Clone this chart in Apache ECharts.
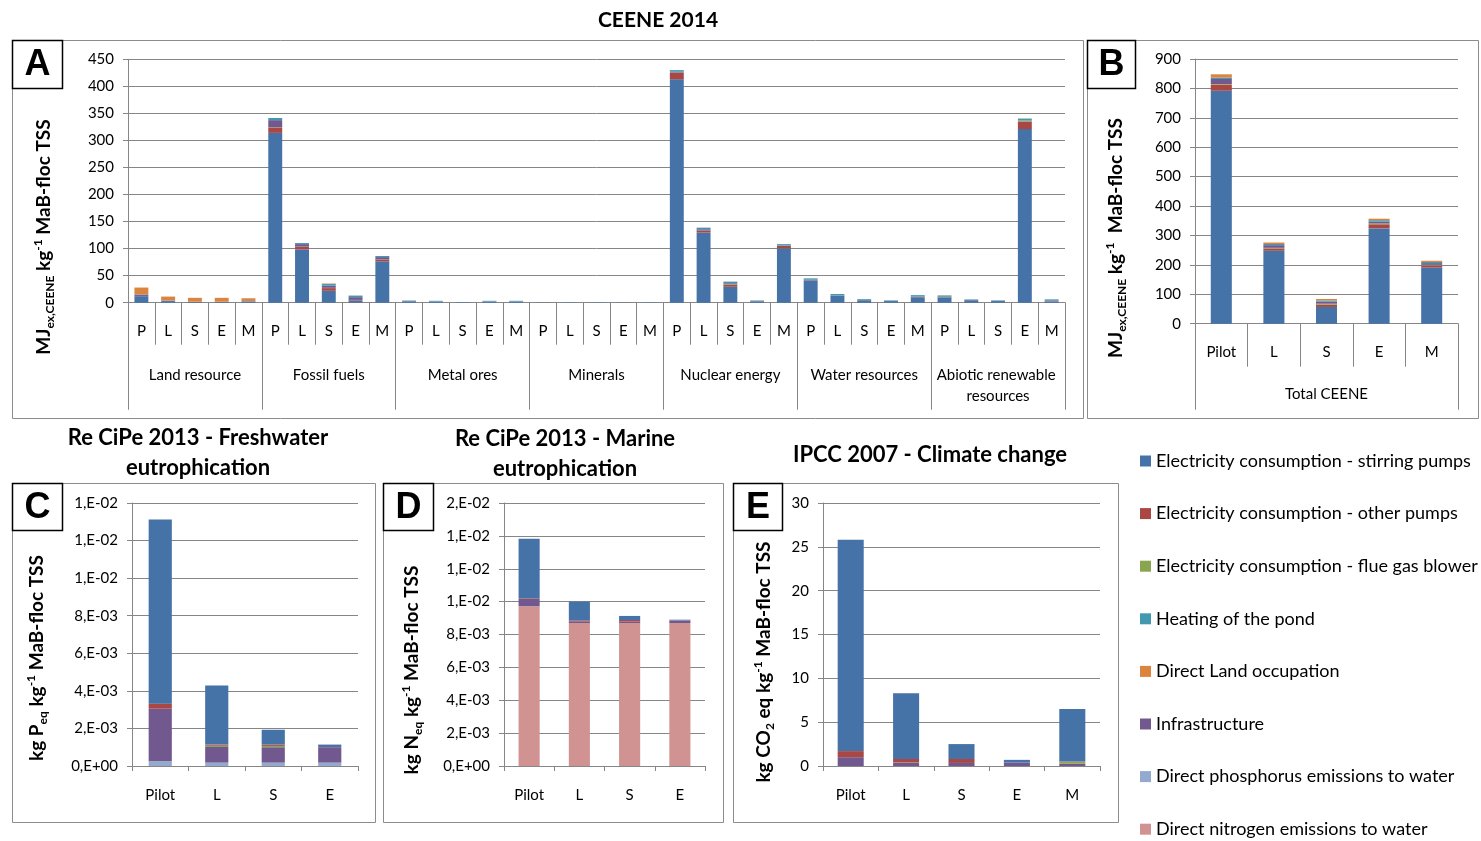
<!DOCTYPE html>
<html><head><meta charset="utf-8">
<script src="https://cdn.jsdelivr.net/npm/echarts@6/dist/echarts.min.js"></script>
<style>html,body{margin:0;padding:0;background:#fff}#c{width:1481px;height:841px}</style>
</head><body><div id="c"></div>
<script>
// ---------- names / categories ----------
const contributors = [
  'Electricity consumption - stirring pumps',
  'Electricity consumption - other pumps',
  'Electricity consumption - flue gas blower',
  'Heating of the pond',
  'Direct Land occupation',
  'Infrastructure',
  'Direct phosphorus emissions to water',
  'Direct nitrogen emissions to water'
];
const contributorColors = ['#4572A7','#AA4643','#89A54E','#4198AF','#DB843D','#71588F','#93A9CF','#D19392'];

const groupsA = ['Land resource','Fossil fuels','Metal ores','Minerals','Nuclear energy','Water resources','Abiotic renewable resources'];
const scenariosA = ['P','L','S','E','M'];
const categoriesB = ['Pilot','L','S','E','M'];
const groupB = ['Total CEENE'];
const categoriesC = ['Pilot','L','S','E'];
const categoriesD = ['Pilot','L','S','E'];
const categoriesE = ['Pilot','L','S','E','M'];

// ---------- Panel A : CEENE per resource (MJex) ----------
const ceeneStirringPumps = [12,3,1,1,2, 314,98.5,22,4,76.5, 2.5,2,0.5,2,2, 0.3,0.3,0.3,0.3,0.3, 413,129.5,29.5,2.5,100.5, 40.5,13,4.5,3,10, 9,4.5,3,321,2];
const ceeneOtherPumps    = [0.5,0.3,0.2,0.2,0.2, 10,5,5,1,3.5, 0.2,0.2,0,0.2,0.2, 0,0,0,0,0, 12,3.5,4,0.3,4.5, 0.5,0.3,0.2,0.1,1, 1,0.3,0.2,14,0.2];
const ceeneFlueGas       = [0,0,0,0,0, 0.5,0.3,0.5,0.2,0.3, 0,0,0,0,0, 0,0,0,0,0, 0.5,0.3,1,0,0.3, 0,0,0,0,0, 0.2,0,0,1.5,0];
const ceeneInfrastructure= [2.5,0.5,0.3,0.3,0.5, 13,4.5,4,5,4, 0.3,0.3,0.2,0.3,0.3, 0.1,0.1,0.1,0.1,0.1, 1.5,2.5,1.5,0.3,0.5, 1.5,0.3,0.3,0.2,0.5, 0.8,0.3,0.2,0.5,2];
const ceeneHeating       = [0.5,0.5,0.5,0.5,0.5, 4,2,3,3,2, 1,1,0.3,1,1, 0.2,0.2,0.2,0.2,0.2, 3,3,3,1,2.5, 2.5,2.5,1.5,1,2.5, 2.5,1,1,3.5,2];
const ceeneLandOccupation= [12.5,7,7,7,5, 0,0,1,0,0, 0,0,0,0,0, 0,0,0,0,0, 0,0,0,0,0, 0,0,0,0,0, 0,0,0,0,0];

// ---------- Panel B : total CEENE ----------
const totalStirringPumps = [792,248,57,324,191];
const totalOtherPumps    = [21,8,8,14,7];
const totalFlueGas       = [2,2,3,3,2];
const totalInfrastructure= [17,9,7,6,6];
const totalHeating       = [5,4,4,5,4];
const totalLandOccupation= [11,5,5,5,4];

// ---------- Panel C : freshwater eutrophication ----------
const fwPhosphorus   = [0.00025,0.00018,0.00018,0.00018];
const fwInfrastructure = [0.0028,0.00083,0.00082,0.00082];
const fwFlueGas      = [0,0.00007,0.00007,0];
const fwOtherPumps   = [0.00027,0.00006,0.00007,0.00001];
const fwStirringPumps= [0.0098,0.00315,0.00079,0.00013];

// ---------- Panel D : marine eutrophication ----------
const meNitrogen     = [0.00972,0.0087,0.0087,0.0087];
const meInfrastructure = [0.00044,0.0001,0.0001,0.00013];
const meOtherPumps   = [0.00004,0.00006,0.00008,0.00002];
const meStirringPumps= [0.00363,0.00114,0.00025,0.00005];

// ---------- Panel E : climate change ----------
const ccInfrastructure = [1.0,0.35,0.35,0.4,0.25];
const ccFlueGas      = [0,0.05,0,0,0.2];
const ccOtherPumps   = [0.7,0.4,0.45,0,0.05];
const ccStirringPumps= [24.1,7.5,1.7,0.3,6.0];

// ---------- tick labels ----------
const yTicksA = {min:0,max:450,interval:50};
const yTicksB = {min:0,max:900,interval:100};
const yTicksC = {min:0,max:0.014,interval:0.002};
const yTicksD = {min:0,max:0.016,interval:0.002};
const yTicksE = {min:0,max:30,interval:5};

// ================= build =================
const FONT = 'Lato, "Open Sans", sans-serif';
const GRAY = '#868686';
const categoriesA = groupsA.flatMap(g => scenariosA.map(s => g + '|' + s));

function sciFmt(v){
  if (v === 0) return '0,E+00';
  let e = Math.floor(Math.log10(v) + 1e-9);
  let m = Math.round(v / Math.pow(10, e));
  if (m >= 10){ m = 1; e += 1; }
  const s = e < 0 ? '-' : '+';
  const a = Math.abs(e);
  return m + ',E' + s + (a < 10 ? '0' + a : a);
}

function col(name){ return contributorColors[contributors.indexOf(name)]; }
function mkSeries(name, data, xi, yi, stack, gap){
  return {type:'bar', name, data, xAxisIndex:xi, yAxisIndex:yi, stack,
    barCategoryGap:gap, itemStyle:{color:col(name)}, emphasis:{disabled:true}};
}

const series = [];
[[0,ceeneStirringPumps],[1,ceeneOtherPumps],[2,ceeneFlueGas],[5,ceeneInfrastructure],[3,ceeneHeating],[4,ceeneLandOccupation]]
  .forEach(([i,d]) => series.push(mkSeries(contributors[i], d, 0, 0, 'A', '48%')));
[[0,totalStirringPumps],[1,totalOtherPumps],[2,totalFlueGas],[5,totalInfrastructure],[3,totalHeating],[4,totalLandOccupation]]
  .forEach(([i,d]) => series.push(mkSeries(contributors[i], d, 2, 1, 'B', '60%')));
[[6,fwPhosphorus],[5,fwInfrastructure],[2,fwFlueGas],[1,fwOtherPumps],[0,fwStirringPumps]]
  .forEach(([i,d]) => series.push(mkSeries(contributors[i], d, 4, 2, 'C', '59%')));
[[7,meNitrogen],[5,meInfrastructure],[1,meOtherPumps],[0,meStirringPumps]]
  .forEach(([i,d]) => series.push(mkSeries(contributors[i], d, 5, 3, 'D', '58%')));
[[5,ccInfrastructure],[2,ccFlueGas],[1,ccOtherPumps],[0,ccStirringPumps]]
  .forEach(([i,d]) => series.push(mkSeries(contributors[i], d, 6, 4, 'E', '53%')));

const grids = [
  {left:128, top:59.3, width:937, height:243.4},
  {left:1195, top:59, width:263, height:264.7},
  {left:132, top:503, width:226, height:263},
  {left:504, top:503, width:201, height:263},
  {left:823, top:503, width:277, height:263}
];

const lbl = {color:'#000', fontFamily:FONT, fontSize:15};
function xCat(grid, data, tickLen, margin, extra){
  return Object.assign({type:'category', gridIndex:grid, data, position:'bottom',
    axisLine:{show:true, lineStyle:{color:GRAY, width:1}},
    axisTick:{show:true, length:tickLen, interval:0, lineStyle:{color:GRAY}},
    axisLabel:Object.assign({interval:0, margin}, lbl),
    splitLine:{show:false}}, extra || {});
}
function yVal(grid, t, fmt){
  return {type:'value', gridIndex:grid, min:t.min, max:t.max, interval:t.interval,
    axisLine:{show:true, lineStyle:{color:GRAY}},
    axisTick:{show:true, length:5, lineStyle:{color:GRAY}},
    axisLabel:Object.assign({margin:14, formatter:fmt}, lbl),
    splitLine:{show:true, lineStyle:{color:GRAY, width:1}}};
}

const xAxes = [
  xCat(0, categoriesA, 42, 21, {axisLabel:Object.assign({interval:0, margin:21, formatter:v => v.split('|')[1]}, lbl)}),
  xCat(0, groupsA, 107, 63, {axisLine:{show:false}, axisLabel:Object.assign({interval:0, margin:62, width:132, overflow:'break', lineHeight:21}, lbl)}),
  xCat(1, categoriesB, 43, 21),
  xCat(1, groupB, 86, 63, {axisLine:{show:false}}),
  xCat(2, categoriesC, 5, 22),
  xCat(3, categoriesD, 5, 22),
  xCat(4, categoriesE, 5, 22)
];
const yAxes = [
  yVal(0, yTicksA), yVal(1, yTicksB), yVal(2, yTicksC, sciFmt), yVal(3, yTicksD, sciFmt), yVal(4, yTicksE)
];

// ---------- decorations ----------
const graphic = [];
function box(x,y,w,h){ graphic.push({type:'rect', shape:{x,y,width:w,height:h}, style:{fill:null, stroke:'#8c8c8c', lineWidth:1}, z:-1, silent:true}); }
box(12.5,40.5,1071,378); box(1087.5,40.5,391,378);
box(12.5,483.5,363,339); box(383.5,483.5,340,339); box(733.5,483.5,385,339);
function tag(x,y,w,h,letter){
  graphic.push({type:'rect', shape:{x,y,width:w,height:h}, style:{fill:'#fff', stroke:'#000', lineWidth:1.5}, z:10, silent:true});
  graphic.push({type:'text', x:x+w/2, y:y+h/2+1, style:{text:letter, font:'bold 36px "Liberation Sans", Arial, sans-serif', fill:'#000', align:'center', verticalAlign:'middle'}, z:11, silent:true});
}
tag(12.5,40.5,50,48,'A'); tag(1087.5,40.5,48,48,'B');
tag(12.5,483.5,50,47,'C'); tag(383.5,483.5,50,47,'D'); tag(733.5,483.5,49,47,'E');

function title(x,y,t,size){ graphic.push({type:'text', x, y, style:{text:t, font:'bold ' + size + 'px ' + FONT, fill:'#000', align:'center', verticalAlign:'middle'}, silent:true}); }
title(658,20,'CEENE 2014',21);
title(198,438,'Re CiPe 2013 - Freshwater',22); title(198,468,'eutrophication',22);
title(565,439,'Re CiPe 2013 - Marine',22); title(565,469,'eutrophication',22);
title(930,455,'IPCC 2007 - Climate change',22);

const rich = {
  b:{fontFamily:FONT, fontWeight:'bold', fontSize:19, lineHeight:24, fill:'#000'},
  s:{fontFamily:FONT, fontWeight:'bold', fontSize:12, lineHeight:14, verticalAlign:'bottom', fill:'#000'},
  p:{fontFamily:FONT, fontWeight:'bold', fontSize:12, lineHeight:14, verticalAlign:'top', fill:'#000'}
};
function yName(x,y,t){ graphic.push({type:'text', x, y, rotation:Math.PI/2, style:{text:t, rich, align:'center', verticalAlign:'middle'}, silent:true}); }
yName(44,237,'{b|MJ}{s|ex,CEENE}{b| kg}{p|-1}{b| MaB-floc TSS}');
yName(1116,238,'{b|MJ}{s|ex,CEENE}{b| kg}{p|-1}{b|  MaB-floc TSS}');
yName(37,658,'{b|kg P}{s|eq}{b| kg}{p|-1}{b| MaB-floc TSS}');
yName(412,670,'{b|kg N}{s|eq}{b| kg}{p|-1}{b| MaB-floc TSS}');
yName(764,662,'{b|kg CO}{s|2}{b| eq kg}{p|-1}{b| MaB-floc TSS}');

const chart = echarts.init(document.getElementById('c'), null, {renderer:'canvas'});
chart.setOption({
  animation:false,
  backgroundColor:'#fff',
  grid:grids,
  xAxis:xAxes,
  yAxis:yAxes,
  legend:{orient:'vertical', left:1140, top:452, padding:0, itemWidth:11, itemHeight:11, itemGap:34.6,
    icon:'rect', selectedMode:false,
    textStyle:{fontFamily:FONT, fontSize:18, color:'#000', lineHeight:18},
    data:contributors},
  graphic,
  series
});
</script></body></html>
